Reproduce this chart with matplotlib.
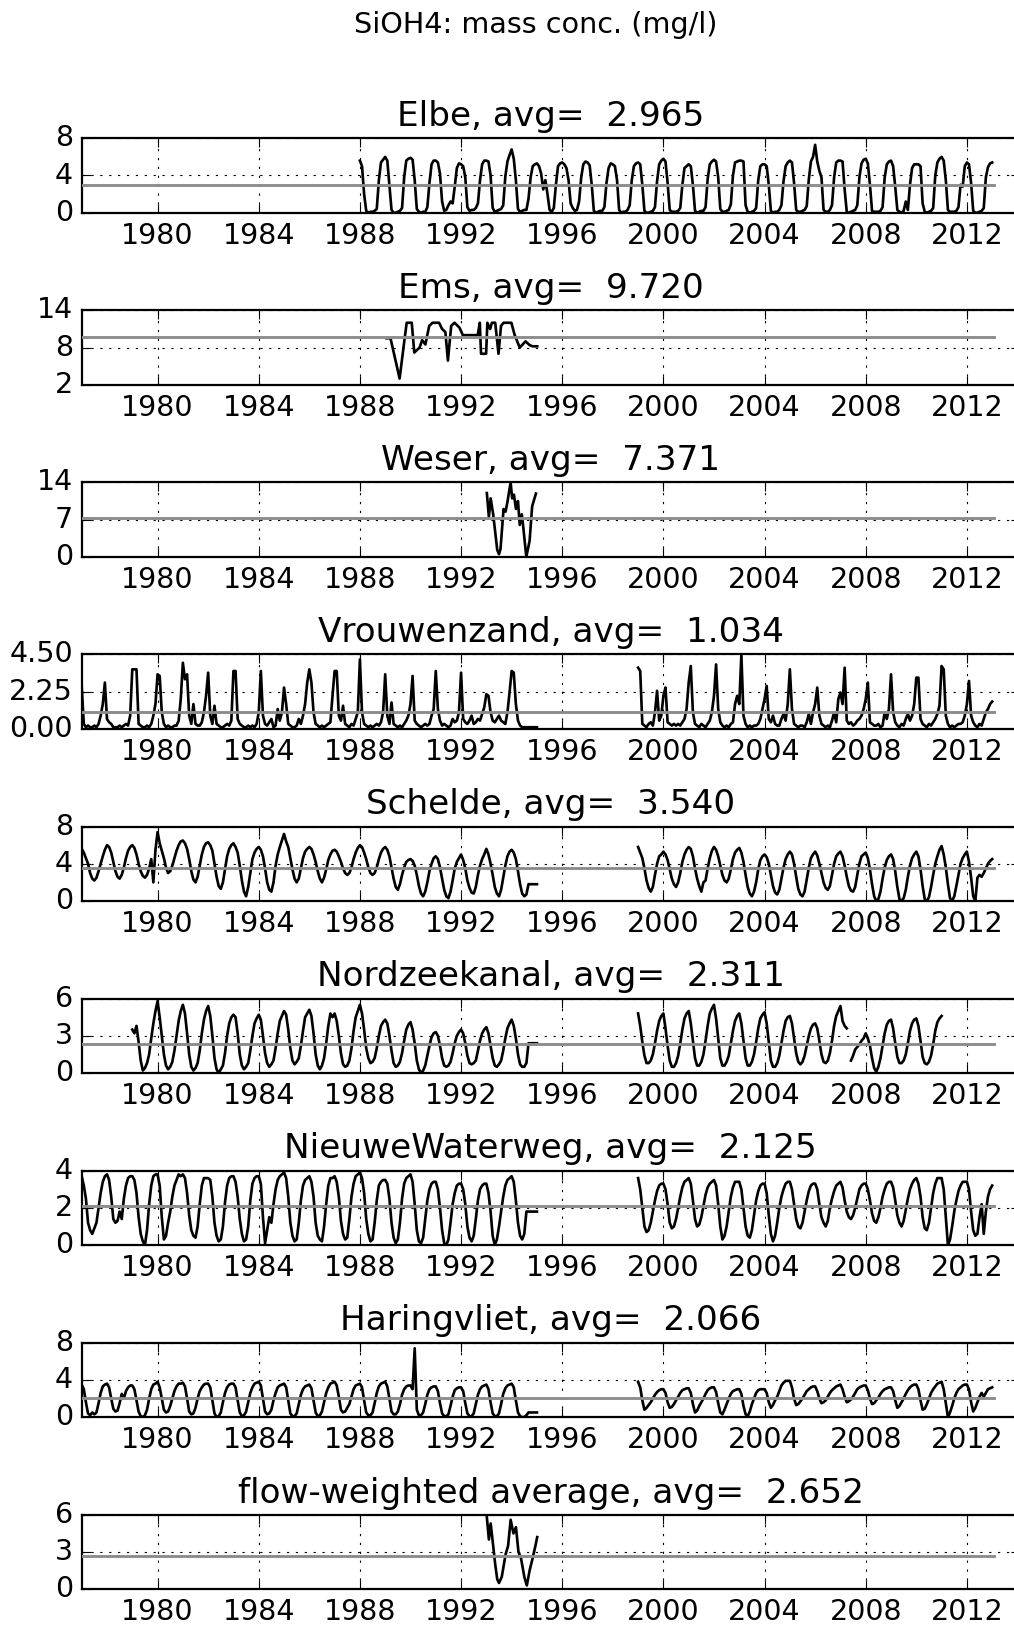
import numpy as np
import matplotlib
matplotlib.use('Agg')
import matplotlib.pyplot as plt
from matplotlib.ticker import FormatStrFormatter, FixedLocator

plt.style.use('classic')
plt.rcParams['font.family'] = ['DejaVu Sans']

nan = float('nan')

# ---------------- data ----------------
stations = ['Elbe', 'Ems', 'Weser', 'Vrouwenzand', 'Schelde', 'Nordzeekanal',
            'NieuweWaterweg', 'Haringvliet', 'flow-weighted average']
averages = [2.965, 9.720, 7.371, 1.034, 3.540, 2.311, 2.125, 2.066, 2.652]
ylims = [(0, 8), (2, 14), (0, 14), (0, 4.5), (0, 8), (0, 6), (0, 4), (0, 8), (0, 6)]
yfmt = ['%d', '%d', '%d', '%.2f', '%d', '%d', '%d', '%d', '%d']
xticks = [1980, 1984, 1988, 1992, 1996, 2000, 2004, 2008, 2012]
avg_span = (1977.0, 2013.08)

# Elbe, monthly from Jan 1988
elbe_start = 1988.0
elbe = [
    5.6, 5.0, 2.0, 0.2, 0.0, 0.1, 0.1, 0.2, 0.4, 3.5, 5.4, 5.7,
    6.0, 5.6, 3.0, 0.3, 0.0, 0.0, 0.1, 0.2, 0.5, 3.8, 5.6, 5.8,
    5.9, 5.7, 3.5, 0.4, 0.1, 0.0, 0.1, 0.1, 0.6, 3.2, 5.2, 5.6,
    5.6, 5.4, 4.2, 1.2, 0.2, 0.3, 0.8, 1.2, 1.0, 2.8, 4.8, 5.3,
    5.2, 5.0, 3.8, 0.6, 0.2, 0.3, 0.3, 0.5, 1.0, 3.5, 5.2, 5.6,
    5.6, 5.5, 4.0, 0.5, 0.1, 0.2, 0.3, 0.4, 0.8, 3.9, 5.5, 6.2,
    6.8, 5.8, 3.5, 0.4, 0.1, 0.2, 0.3, 0.3, 1.5, 3.8, 5.0, 5.2,
    5.3, 5.0, 4.2, 2.5, 3.5, 2.0, 0.3, 0.1, 0.5, 3.0, 5.0, 5.3,
    5.4, 5.2, 4.8, 3.5, 1.0, 0.5, 0.2, 0.3, 1.2, 3.8, 5.2, 5.5,
    5.4, 5.1, 3.0, 0.2, 0.0, 0.1, 0.2, 0.2, 0.6, 3.2, 4.8, 5.3,
    5.2, 5.0, 3.5, 0.3, 0.0, 0.1, 0.1, 0.3, 0.8, 3.5, 5.0, 5.3,
    5.4, 5.2, 3.0, 0.2, 0.0, 0.0, 0.1, 0.2, 0.6, 3.4, 5.2, 5.6,
    5.8, 5.5, 3.2, 0.3, 0.1, 0.1, 0.1, 0.2, 0.5, 3.0, 4.8, 5.0,
    5.2, 5.0, 3.0, 0.2, 0.0, 0.1, 0.2, 0.2, 0.6, 3.6, 5.2, 5.5,
    5.7, 5.5, 3.8, 0.4, 0.1, 0.1, 0.2, 0.3, 0.9, 4.0, 5.4, 5.5,
    5.6, 5.6, 5.5, 0.8, 0.1, 0.0, 0.1, 0.2, 0.5, 3.5, 5.0, 5.2,
    5.2, 5.0, 3.0, 0.2, 0.0, 0.1, 0.1, 0.3, 0.8, 3.4, 5.0, 5.4,
    5.6, 5.4, 3.2, 0.3, 0.1, 0.1, 0.2, 0.3, 0.7, 3.6, 5.5, 6.0,
    7.3, 5.5, 4.5, 3.8, 0.3, 0.1, 0.1, 0.3, 0.8, 3.8, 5.4, 5.6,
    5.6, 5.5, 2.5, 0.1, 0.0, 0.1, 0.2, 0.3, 0.8, 3.8, 5.3, 5.7,
    5.8, 5.3, 3.0, 0.2, 0.1, 0.1, 0.1, 0.2, 0.6, 3.8, 5.2, 5.5,
    5.6, 5.0, 2.8, 0.3, 0.1, 0.0, 0.2, 1.2, 0.3, 3.0, 4.8, 5.2,
    5.2, 5.2, 5.0, 1.0, 0.1, 0.0, 0.1, 0.2, 0.5, 4.0, 5.4, 5.8,
    6.0, 5.6, 3.5, 0.3, 0.1, 0.1, 0.1, 0.2, 0.6, 3.0, 2.8, 5.0,
    5.4, 5.2, 3.2, 0.2, 0.0, 0.0, 0.1, 0.2, 0.5, 3.8, 4.9, 5.3,
    5.4,
]

# Ems, irregular samples
ems_t = [1989.05, 1989.21, 1989.57, 1989.77, 1989.85, 1990.05, 1990.15, 1990.36,
         1990.46, 1990.59, 1990.74, 1990.87, 1991.13, 1991.25, 1991.38, 1991.48,
         1991.61, 1991.74, 1991.94, 1992.07, 1992.66, 1992.74, 1992.79, 1992.99,
         1993.04, 1993.15, 1993.22, 1993.35, 1993.48, 1993.58, 1993.68, 1993.99,
         1994.12, 1994.32, 1994.55, 1994.71, 1994.83, 1995.01]
ems_v = [9.5, 9.5, 3.0, 9.5, 12.0, 12.0, 7.2, 8.0,
         9.2, 8.5, 11.5, 12.0, 12.0, 11.0, 10.5, 5.9,
         11.5, 12.0, 11.2, 10.0, 10.0, 12.0, 7.0, 7.0,
         12.0, 11.0, 12.0, 12.0, 7.0, 11.5, 12.0, 12.0,
         10.0, 8.0, 9.0, 8.4, 8.2, 8.2]

# Weser, irregular samples
weser_t = [1993.02, 1993.10, 1993.17, 1993.27, 1993.43, 1993.50, 1993.56, 1993.68,
           1993.76, 1993.84, 1993.89, 1993.96, 1994.02, 1994.09, 1994.17, 1994.25,
           1994.32, 1994.40, 1994.45, 1994.58, 1994.71, 1994.81, 1994.96]
weser_v = [12.0, 7.5, 11.0, 8.0, 1.3, 0.5, 1.5, 9.0,
           8.5, 10.5, 12.0, 14.0, 11.0, 11.7, 9.0, 10.5,
           6.0, 8.0, 6.0, 0.0, 3.0, 9.5, 11.9]

# flow-weighted average, irregular samples
flow_t = [1993.02, 1993.10, 1993.17, 1993.27, 1993.35, 1993.43, 1993.50, 1993.61,
          1993.76, 1993.86, 1993.96, 1994.07, 1994.17, 1994.27, 1994.37, 1994.50,
          1994.60, 1994.71, 1994.83, 1994.94, 1995.01]
flow_v = [5.8, 4.0, 5.3, 3.5, 2.0, 0.8, 0.5, 1.0,
          2.8, 3.5, 5.6, 4.5, 5.0, 3.0, 2.5, 1.0,
          0.3, 1.5, 2.5, 3.5, 4.2]

# Dutch stations: monthly, segment A from Jan 1977, segment B from Jan 1999
seg_a_start = 1977.0
seg_b_start = 1999.0

vrouwenzand_a = [
    2.6, 0.3, 0.1, 0.2, 0.1, 0.1, 0.2, 0.1, 0.3, 0.8, 1.5, 2.8,
    0.6, 0.4, 0.3, 0.1, 0.1, 0.1, 0.2, 0.1, 0.2, 0.3, 0.2, 0.8,
    3.6, 3.6, 3.6, 0.3, 0.2, 0.1, 0.1, 0.2, 0.1, 0.3, 0.8, 1.5,
    3.3, 3.2, 1.0, 0.3, 0.1, 0.2, 0.1, 0.1, 0.2, 0.2, 0.5, 1.8,
    4.0, 3.0, 3.3, 0.8, 0.3, 1.5, 0.3, 0.2, 0.2, 0.4, 1.0, 2.0,
    3.4, 0.8, 0.3, 1.4, 0.3, 0.2, 0.1, 0.1, 0.2, 0.3, 0.2, 0.5,
    3.5, 3.5, 0.6, 0.3, 0.2, 0.1, 0.1, 0.2, 0.1, 0.2, 0.1, 0.3,
    1.0, 3.5, 0.8, 0.3, 0.2, 0.4, 0.6, 0.1, 0.2, 1.2, 0.5, 1.0,
    2.5, 1.5, 0.3, 0.2, 0.1, 0.1, 0.2, 0.6, 0.3, 0.8, 1.5, 2.8,
    3.6, 2.8, 1.0, 0.3, 0.2, 0.1, 0.2, 0.1, 0.2, 0.3, 0.4, 2.0,
    3.5, 3.5, 0.8, 0.5, 1.4, 0.3, 0.2, 0.1, 0.3, 0.2, 0.6, 1.0,
    4.2, 1.0, 0.3, 0.2, 0.1, 0.2, 0.1, 0.2, 0.3, 0.2, 0.4, 1.0,
    3.3, 0.8, 0.3, 1.6, 0.3, 0.2, 0.1, 0.2, 0.1, 0.3, 0.5, 0.8,
    1.5, 3.2, 0.5, 0.3, 0.2, 0.1, 0.2, 0.3, 0.2, 0.3, 0.8, 1.2,
    3.5, 1.2, 0.5, 0.2, 0.3, 0.2, 0.1, 0.2, 0.6, 0.4, 0.5, 1.0,
    3.4, 0.6, 0.4, 0.3, 0.5, 0.8, 0.3, 0.4, 0.6, 0.5, 0.9, 1.3,
    2.1, 2.0, 1.0, 0.5, 0.4, 0.6, 0.8, 0.5, 0.4, 0.3, 1.0, 2.2,
    3.5, 3.4, 1.5, 0.5, 0.2, 0.1, 0.1, 0.1, 0.1, 0.1, 0.1, 0.1,
    0.1,
]
vrouwenzand_b = [
    3.7, 3.5, 0.3, 0.2, 0.1, 0.3, 0.4, 0.2, 1.0, 2.3, 0.5, 0.8,
    2.0, 2.5, 0.4, 0.3, 0.2, 0.3, 0.2, 0.3, 0.2, 0.4, 0.6, 1.2,
    2.8, 3.8, 1.0, 0.3, 0.2, 0.1, 0.3, 0.2, 0.1, 0.3, 0.5, 1.0,
    2.0, 3.9, 1.2, 0.4, 0.2, 0.1, 0.2, 0.1, 0.3, 0.4, 1.5, 2.0,
    1.5, 4.5, 0.8, 0.3, 0.1, 0.2, 0.1, 0.2, 0.2, 0.3, 0.6, 1.2,
    1.8, 2.6, 0.6, 0.4, 0.8, 0.3, 0.2, 0.2, 0.6, 0.9, 0.5, 1.5,
    3.6, 1.2, 0.3, 0.2, 0.1, 0.2, 0.2, 0.1, 0.4, 0.9, 0.3, 1.0,
    1.5, 2.5, 0.8, 0.3, 0.2, 0.1, 0.2, 0.1, 0.5, 1.0, 0.4, 1.8,
    2.2, 1.5, 3.7, 0.5, 0.3, 0.4, 0.2, 0.3, 0.5, 0.6, 0.8, 1.2,
    1.8, 2.8, 0.4, 0.3, 0.2, 0.2, 0.3, 0.1, 0.2, 1.0, 0.6, 1.2,
    3.3, 1.0, 0.4, 0.2, 0.1, 0.3, 0.2, 0.6, 0.9, 0.5, 0.8, 1.5,
    3.1, 3.1, 0.6, 0.3, 0.2, 0.1, 0.3, 0.2, 0.4, 0.6, 0.9, 1.4,
    3.8, 3.6, 0.8, 0.3, 0.1, 0.2, 0.1, 0.2, 0.3, 0.3, 0.4, 0.8,
    1.5, 2.9, 0.8, 0.4, 0.2, 0.1, 0.3, 0.2, 0.6, 1.0, 1.2, 1.5,
    1.65,
]

schelde_a = [
    5.6, 5.2, 4.6, 4.0, 3.0, 2.4, 2.2, 2.5, 3.2, 4.0, 4.8, 5.5,
    6.0, 5.8, 5.2, 4.2, 3.2, 2.6, 2.4, 2.8, 3.6, 4.6, 5.4, 5.8,
    6.0, 5.7, 5.0, 4.0, 3.2, 2.7, 2.5, 2.8, 3.5, 4.5, 2.0, 5.5,
    7.4, 6.2, 5.4, 4.6, 3.6, 3.0, 3.2, 3.8, 4.6, 5.4, 6.0, 6.4,
    6.5, 6.2, 5.6, 4.5, 3.2, 2.3, 2.0, 2.6, 3.8, 5.0, 5.8, 6.2,
    6.3, 6.0, 5.4, 4.0, 2.6, 1.6, 1.3, 2.0, 3.4, 4.8, 5.6, 6.0,
    6.2, 5.8, 5.2, 3.8, 2.2, 1.0, 0.5, 1.5, 3.0, 4.5, 5.2, 5.6,
    5.8, 5.5, 4.8, 3.5, 2.0, 1.2, 1.0, 2.0, 3.8, 5.0, 5.8, 6.5,
    7.2, 6.4, 5.8, 4.6, 3.4, 2.4, 2.0, 2.4, 3.5, 4.6, 5.3, 5.6,
    5.8, 5.6, 5.0, 4.2, 3.2, 2.4, 2.0, 2.5, 3.4, 4.4, 5.0, 5.4,
    5.5, 5.3, 4.8, 4.2, 3.5, 3.0, 2.8, 3.0, 3.6, 4.5, 5.2, 5.7,
    6.0, 5.8, 5.2, 4.5, 3.6, 3.0, 2.8, 3.0, 3.6, 4.5, 5.2, 5.6,
    5.8, 5.5, 4.8, 3.6, 2.4, 1.5, 1.2, 1.8, 2.8, 3.6, 4.2, 4.4,
    4.5, 4.3, 3.8, 2.8, 1.6, 0.8, 0.5, 1.0, 2.0, 3.2, 4.0, 4.6,
    4.8, 4.5, 3.6, 2.4, 1.2, 0.5, 0.3, 1.0, 2.2, 3.5, 4.2, 4.6,
    5.0, 4.4, 3.5, 2.2, 1.4, 0.9, 0.8, 1.5, 2.8, 3.8, 4.5, 5.0,
    5.6, 5.0, 4.0, 2.8, 1.5, 0.8, 0.5, 1.2, 2.5, 3.8, 4.8, 5.3,
    5.5, 5.2, 4.5, 3.2, 1.8, 0.8, 0.5, 0.7, 1.8, 1.8, 1.8, 1.8,
    1.8,
]
schelde_b = [
    5.8, 5.2, 4.6, 3.5, 2.2, 1.4, 1.0, 1.5, 2.8, 4.0, 4.8, 5.0,
    5.3, 5.0, 4.4, 3.4, 2.4, 1.8, 1.5, 2.0, 3.0, 4.2, 5.0, 5.5,
    5.8, 5.6, 4.8, 3.5, 2.4, 1.6, 1.0, 2.0, 2.2, 3.5, 4.6, 5.4,
    5.8, 5.5, 4.8, 3.8, 2.8, 2.2, 2.0, 2.4, 3.4, 4.5, 5.2, 5.5,
    5.7, 5.2, 4.2, 2.8, 1.5, 0.8, 0.5, 1.0, 2.0, 3.4, 4.4, 4.8,
    5.0, 4.7, 4.0, 2.8, 1.6, 0.9, 0.7, 1.2, 2.4, 3.6, 4.5, 5.0,
    5.3, 5.0, 4.0, 2.6, 1.3, 0.7, 0.5, 1.0, 2.3, 3.6, 4.6, 5.0,
    5.3, 4.9, 4.0, 3.0, 2.0, 1.4, 1.2, 1.6, 2.8, 4.0, 4.8, 5.1,
    5.3, 4.8, 3.8, 2.6, 1.6, 1.1, 1.0, 1.5, 2.8, 4.0, 4.8, 5.0,
    5.2, 4.6, 3.4, 1.8, 0.5, 0.0, 0.2, 1.0, 2.4, 3.6, 4.4, 4.8,
    5.0, 4.5, 3.2, 1.5, 0.2, 0.0, 0.3, 1.2, 2.6, 3.8, 4.6, 5.0,
    5.3, 4.8, 3.4, 1.6, 0.2, 0.0, 0.4, 1.5, 2.8, 4.0, 4.8, 5.5,
    5.9, 5.0, 3.6, 1.8, 0.3, 0.0, 0.5, 1.6, 2.8, 4.0, 4.6, 5.0,
    5.3, 4.2, 2.5, 0.5, 0.0, 2.5, 2.8, 2.6, 3.0, 3.5, 4.0, 4.3,
    4.5,
]

# Nordzeekanal: segment A from Jan 1979, B from Jan 1999, C from Jun 2007
nzk_a_start = 1979.0
nzk_c_start = 2007.0 + 5 / 12
nordzeekanal_a = [
    3.5, 3.2, 3.8, 2.5, 1.0, 0.2, 0.4, 0.8, 1.5, 2.8, 4.0, 5.0,
    5.8, 4.5, 3.0, 1.5, 0.6, 0.3, 0.5, 0.9, 1.8, 3.0, 4.2, 5.0,
    5.5, 4.8, 3.2, 1.5, 0.5, 0.2, 0.4, 0.8, 1.8, 3.2, 4.3, 5.0,
    5.4, 4.6, 3.0, 1.2, 0.3, 0.0, 0.3, 0.6, 1.6, 3.0, 4.0, 4.5,
    4.7, 4.5, 3.2, 1.5, 0.6, 0.3, 0.5, 0.8, 1.8, 3.0, 4.0, 4.4,
    4.7, 4.3, 3.0, 1.6, 0.8, 0.5, 0.7, 1.0, 2.0, 3.2, 4.2, 4.6,
    5.0, 4.7, 3.5, 2.0, 1.0, 0.7, 0.9, 1.2, 2.2, 3.4, 4.5, 4.8,
    5.1, 4.6, 3.2, 1.5, 0.6, 0.3, 0.6, 1.2, 2.4, 3.8, 4.8, 4.5,
    4.8, 4.2, 3.0, 1.6, 0.7, 0.5, 0.6, 1.0, 2.0, 3.4, 4.5, 5.0,
    5.5, 4.8, 3.5, 2.0, 1.2, 0.8, 0.9, 1.2, 2.0, 3.0, 3.8, 4.1,
    4.3, 4.0, 3.0, 1.8, 0.8, 0.5, 0.6, 0.9, 1.6, 2.6, 3.5, 3.9,
    4.1, 3.5, 2.4, 1.0, 0.3, 0.0, 0.2, 0.6, 1.4, 2.2, 2.9, 3.2,
    3.3, 3.0, 2.2, 1.2, 0.6, 0.5, 0.6, 0.9, 1.6, 2.4, 3.0, 3.3,
    3.5, 3.2, 2.4, 1.4, 0.8, 0.7, 0.8, 1.0, 1.8, 2.6, 3.2, 3.5,
    3.7, 3.2, 2.2, 1.2, 0.6, 0.5, 0.7, 1.0, 1.8, 2.8, 3.6, 4.0,
    4.3, 3.8, 2.8, 1.5, 0.7, 0.5, 0.5, 0.8, 2.4, 2.4, 2.4, 2.4,
    2.4,
]
nordzeekanal_b = [
    4.8, 3.8, 2.5, 1.4, 0.8, 0.8, 1.0, 1.5, 2.4, 3.4, 4.2, 4.6,
    4.8, 3.6, 2.2, 1.0, 0.5, 0.5, 0.8, 1.4, 2.4, 3.5, 4.4, 4.8,
    5.0, 4.0, 2.6, 1.2, 0.6, 0.6, 0.9, 1.5, 2.6, 3.8, 4.8, 5.2,
    5.5, 4.4, 2.8, 1.2, 0.6, 0.6, 0.9, 1.4, 2.4, 3.4, 4.2, 4.6,
    4.8, 4.0, 2.6, 1.2, 0.6, 0.6, 0.9, 1.5, 2.5, 3.6, 4.4, 4.7,
    4.9, 4.0, 2.5, 1.0, 0.5, 0.5, 0.8, 1.4, 2.4, 3.4, 4.2, 4.5,
    4.6, 4.0, 2.8, 1.6, 0.9, 0.7, 0.9, 1.4, 2.2, 3.0, 3.6, 3.9,
    4.0, 3.6, 2.6, 1.5, 0.9, 0.8, 1.0, 1.6, 2.6, 3.8, 4.6, 5.0,
    5.4, 4.2, 3.8, 3.6,
]
nordzeekanal_c = [
    1.0, 1.4, 1.9, 2.1, 2.3, 2.6, 2.8,
    3.2, 2.8, 2.2, 1.2, 0.4, 0.1, 0.5, 1.2, 2.2, 3.2, 3.9, 4.2,
    4.3, 3.6, 2.4, 1.3, 0.8, 0.8, 1.0, 1.5, 2.4, 3.4, 4.0, 4.3,
    4.4, 3.8, 2.6, 1.3, 0.8, 0.7, 0.9, 1.4, 2.3, 3.4, 4.1, 4.4,
    4.6,
]

nieuwewaterweg_a = [
    3.7, 3.2, 2.5, 1.2, 0.8, 0.6, 0.9, 1.2, 2.0, 2.8, 3.4, 3.7,
    3.8, 3.5, 2.6, 1.4, 1.2, 1.3, 1.8, 1.4, 2.5, 3.2, 3.6, 3.7,
    3.7, 3.5, 2.8, 1.5, 0.6, 0.2, 0.0, 0.8, 2.2, 3.2, 3.7, 3.8,
    3.8, 3.2, 1.5, 0.3, 0.5, 1.2, 1.8, 2.6, 3.2, 3.5, 3.8, 3.7,
    3.8, 3.6, 2.8, 1.6, 0.8, 0.5, 0.4, 1.0, 2.2, 3.2, 3.6, 3.6,
    3.6, 3.5, 2.6, 1.2, 0.5, 0.2, 0.3, 1.0, 2.3, 3.2, 3.6, 3.7,
    3.7, 3.4, 2.6, 1.4, 0.6, 0.2, 0.3, 1.0, 2.4, 3.3, 3.6, 3.7,
    3.7, 3.3, 1.5, 0.1, 0.8, 1.5, 1.2, 2.2, 3.0, 3.5, 3.7, 3.8,
    3.9, 3.6, 2.6, 1.2, 0.5, 0.2, 0.3, 1.2, 2.4, 3.2, 3.5, 3.6,
    3.7, 3.4, 2.6, 1.2, 0.5, 0.3, 0.2, 1.0, 2.2, 3.2, 3.6, 3.6,
    3.7, 3.4, 2.6, 1.3, 0.6, 0.3, 0.4, 1.4, 2.6, 3.3, 3.7, 3.8,
    3.9, 3.6, 2.8, 1.4, 0.6, 0.2, 0.3, 1.2, 2.4, 3.2, 3.4, 3.5,
    3.5, 3.3, 2.5, 1.2, 0.4, 0.1, 0.3, 1.2, 2.5, 3.3, 3.6, 3.7,
    3.8, 3.4, 2.2, 0.8, 0.2, 0.1, 0.4, 1.4, 2.4, 3.0, 3.3, 3.4,
    3.4, 3.0, 2.0, 0.8, 0.1, 0.0, 0.3, 1.2, 2.2, 2.8, 3.2, 3.3,
    3.3, 3.0, 2.2, 1.0, 0.4, 0.2, 0.5, 1.4, 2.4, 3.0, 3.2, 3.3,
    3.3, 2.8, 1.8, 0.5, 0.0, 0.3, 1.0, 1.8, 2.6, 3.2, 3.5, 3.6,
    3.7, 3.4, 2.4, 1.2, 0.5, 0.3, 0.6, 1.8, 1.8, 1.8, 1.8, 1.8,
    1.8,
]
nieuwewaterweg_b = [
    3.6, 3.0, 2.0, 1.0, 0.7, 0.8, 1.2, 1.8, 2.4, 2.9, 3.2, 3.3,
    3.3, 3.0, 2.2, 1.2, 0.9, 1.0, 1.4, 2.0, 2.6, 3.1, 3.4, 3.5,
    3.6, 3.3, 2.4, 1.4, 1.0, 1.1, 1.5, 2.1, 2.7, 3.1, 3.3, 3.4,
    3.5, 3.2, 2.2, 1.0, 0.3, 0.5, 1.0, 1.8, 2.6, 3.1, 3.4, 3.4,
    3.4, 3.0, 2.0, 1.0, 0.5, 0.4, 0.8, 1.6, 2.4, 2.9, 3.2, 3.3,
    3.3, 2.8, 1.6, 0.6, 0.2, 0.5, 1.2, 2.0, 2.6, 3.0, 3.3, 3.4,
    3.4, 3.0, 2.2, 1.4, 1.0, 0.9, 1.2, 1.8, 2.4, 2.9, 3.2, 3.3,
    3.3, 3.0, 2.2, 1.5, 1.2, 1.0, 1.3, 2.0, 2.5, 2.9, 3.2, 3.3,
    3.4, 3.1, 2.4, 1.8, 1.5, 1.4, 1.6, 2.0, 2.5, 3.0, 3.2, 3.3,
    3.3, 3.0, 2.4, 1.7, 1.3, 1.2, 1.5, 2.0, 2.6, 3.0, 3.3, 3.4,
    3.4, 3.1, 2.4, 1.6, 1.2, 1.0, 1.3, 1.9, 2.5, 3.0, 3.3, 3.5,
    3.6, 3.3, 2.6, 1.5, 0.9, 0.8, 1.2, 2.0, 2.8, 3.3, 3.6, 3.6,
    3.6, 3.0, 1.5, 0.0, 0.3, 1.0, 1.8, 2.4, 2.9, 3.2, 3.4, 3.4,
    3.4, 3.0, 1.8, 0.8, 0.5, 0.6, 1.5, 2.2, 0.6, 1.8, 2.6, 3.0,
    3.2,
]

haringvliet_a = [
    3.5, 3.0, 1.6, 0.4, 0.2, 0.5, 0.3, 0.5, 1.5, 2.6, 3.3, 3.5,
    3.6, 3.2, 2.0, 0.9, 0.6, 0.7, 1.5, 2.5, 2.0, 2.8, 3.2, 3.4,
    3.4, 3.0, 1.8, 0.6, 0.1, 0.0, 0.2, 0.8, 2.0, 3.0, 3.5, 3.6,
    3.8, 3.2, 2.0, 0.8, 0.5, 0.6, 1.2, 2.0, 2.8, 3.3, 3.6, 3.6,
    3.7, 3.3, 2.0, 0.6, 0.3, 0.4, 1.0, 2.0, 2.8, 3.2, 3.5, 3.6,
    3.6, 3.2, 1.8, 0.4, 0.0, 0.1, 0.5, 1.6, 2.6, 3.2, 3.5, 3.6,
    3.6, 3.2, 1.8, 0.5, 0.1, 0.2, 0.6, 1.6, 2.6, 3.2, 3.6, 3.7,
    3.8, 3.4, 2.0, 0.6, 0.3, 0.4, 0.8, 1.8, 2.6, 3.2, 3.4, 3.5,
    3.6, 3.2, 1.8, 0.4, 0.1, 0.1, 0.4, 1.4, 2.4, 3.0, 3.3, 3.4,
    3.5, 3.1, 1.8, 0.5, 0.1, 0.2, 0.6, 1.6, 2.6, 3.2, 3.6, 3.7,
    3.8, 3.4, 2.2, 0.8, 0.5, 0.6, 1.0, 1.4, 2.2, 3.0, 3.4, 3.5,
    3.6, 3.2, 1.8, 0.5, 0.2, 0.2, 0.5, 1.5, 2.6, 3.3, 3.6, 3.7,
    3.8, 3.3, 2.0, 0.6, 0.3, 0.3, 0.6, 1.4, 2.4, 3.0, 3.3, 3.4,
    3.4, 3.0, 7.4, 0.8, 0.2, 0.2, 0.5, 1.4, 2.4, 3.0, 3.2, 3.3,
    3.3, 2.8, 1.5, 0.4, 0.1, 0.1, 0.3, 1.2, 2.2, 2.9, 3.1, 3.2,
    3.2, 2.8, 1.5, 0.4, 0.1, 0.1, 0.4, 1.4, 2.4, 3.0, 3.3, 3.4,
    3.5, 3.0, 1.6, 0.4, 0.1, 0.1, 0.4, 1.4, 2.5, 3.1, 3.4, 3.5,
    3.6, 3.2, 1.8, 0.5, 0.1, 0.0, 0.0, 0.2, 0.5, 0.5, 0.5, 0.5,
    0.5,
]
haringvliet_b = [
    3.8, 3.2, 1.8, 0.8, 1.0, 1.3, 1.6, 2.0, 2.4, 2.7, 2.9, 3.0,
    3.0, 2.6, 1.6, 1.0, 1.1, 1.4, 1.8, 2.2, 2.6, 2.9, 3.0, 3.1,
    3.1, 2.6, 1.4, 0.5, 0.7, 1.2, 1.6, 2.0, 2.5, 2.9, 3.1, 3.2,
    3.2, 2.7, 1.5, 0.5, 0.3, 0.8, 1.4, 2.0, 2.5, 2.8, 2.9, 3.0,
    3.0, 2.5, 1.2, 0.3, 0.1, 0.6, 1.4, 2.0, 2.6, 2.9, 3.0, 3.0,
    3.0, 2.6, 1.6, 1.0, 1.3, 1.8, 2.2, 2.8, 3.4, 3.7, 3.9, 3.9,
    3.9, 3.2, 2.0, 1.3, 1.4, 1.7, 2.0, 2.4, 2.8, 3.0, 3.2, 3.3,
    3.3, 2.8, 2.0, 1.5, 1.6, 1.8, 2.2, 2.6, 2.9, 3.1, 3.3, 3.4,
    3.5, 3.0, 2.2, 1.6, 1.7, 1.9, 2.2, 2.6, 3.0, 3.2, 3.3, 3.4,
    3.4, 2.9, 2.0, 1.4, 1.5, 1.8, 2.1, 2.5, 2.8, 3.0, 3.1, 3.2,
    3.2, 2.8, 1.8, 1.0, 1.2, 1.6, 2.0, 2.5, 2.9, 3.2, 3.4, 3.5,
    3.5, 3.0, 1.8, 0.8, 0.9, 1.4, 2.0, 2.6, 3.0, 3.3, 3.6, 3.7,
    3.8, 3.0, 1.5, 0.0, 0.5, 1.2, 2.0, 2.6, 3.0, 3.2, 3.4, 3.5,
    3.5, 3.0, 1.6, 0.6, 1.0, 1.6, 2.2, 2.6, 2.2, 2.6, 3.0, 3.1,
    3.2,
]


# ---------------- helpers ----------------
def monthly(start, vals):
    v = np.asarray(vals, dtype=float)
    return start + np.arange(len(v)) / 12.0, v


def join(*segs):
    ts, vs = [], []
    for t, v in segs:
        if ts:
            ts.append([np.nan]); vs.append([np.nan])
        ts.append(np.asarray(t, float)); vs.append(np.asarray(v, float))
    return np.concatenate(ts), np.concatenate(vs)


series = [
    join(monthly(elbe_start, elbe)),
    join((ems_t, ems_v)),
    join((weser_t, weser_v)),
    join(monthly(seg_a_start, vrouwenzand_a), monthly(seg_b_start, vrouwenzand_b)),
    join(monthly(seg_a_start, schelde_a), monthly(seg_b_start, schelde_b)),
    join(monthly(nzk_a_start, nordzeekanal_a), monthly(seg_b_start, nordzeekanal_b),
         monthly(nzk_c_start, nordzeekanal_c)),
    join(monthly(seg_a_start, nieuwewaterweg_a), monthly(seg_b_start, nieuwewaterweg_b)),
    join(monthly(seg_a_start, haringvliet_a), monthly(seg_b_start, haringvliet_b)),
    join((flow_t, flow_v)),
]

# ---------------- figure ----------------
W, H, DPI = 1014, 1626, 160
fig = plt.figure(figsize=(W / DPI, H / DPI), dpi=DPI, facecolor='white')

left_px, right_px = 81.7, 1020.0
top0_px, step_px, h_px = 138.3, 172.06, 74.4

for i, (name, avg, (t, v)) in enumerate(zip(stations, averages, series)):
    top = top0_px + i * step_px
    ax = fig.add_axes([left_px / W, 1 - (top + h_px) / H,
                       (right_px - left_px) / W, h_px / H])
    ax.set_facecolor('white')
    ax.plot(t, v, color='k', lw=1.2, zorder=2)
    ax.plot(avg_span, [avg, avg], color='0.55', lw=1.3, zorder=3)
    lo, hi = ylims[i]
    ax.set_ylim(lo, hi)
    ax.set_xlim(1977.0, 2014.1)
    ax.yaxis.set_major_locator(FixedLocator([lo, (lo + hi) / 2, hi]))
    ax.yaxis.set_major_formatter(FormatStrFormatter(yfmt[i]))
    ax.xaxis.set_major_locator(FixedLocator(xticks))
    ax.xaxis.set_major_formatter(FormatStrFormatter('%d'))
    ax.grid(True, color='k', linestyle=':', linewidth=0.5)
    ax.tick_params(labelsize=12.8)
    ax.set_title('%s, avg= %6.3f' % (name, avg), fontsize=15.4, pad=5.5)

fig.text(536 / W, 1 - 33.3 / H, 'SiOH4: mass conc. (mg/l)', ha='center',
         va='baseline', fontsize=12.9)

fig.savefig('out.png', dpi=DPI, facecolor='white')
